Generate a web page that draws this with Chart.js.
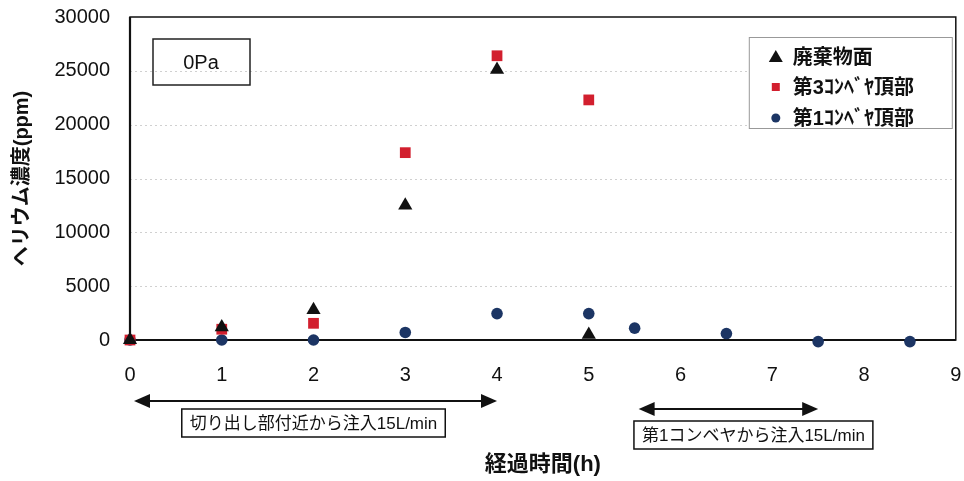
<!DOCTYPE html>
<html lang="ja">
<head>
<meta charset="utf-8">
<title>ヘリウム濃度の経時変化</title>
<script src="https://cdn.jsdelivr.net/npm/chart.js@4/dist/chart.umd.min.js"></script>
<style>
  html, body { margin: 0; padding: 0; background: #fff; }
  #wrap { width: 964px; height: 481px; position: relative; }
</style>
</head>
<body>
<div id="wrap"><canvas id="c" width="964" height="481"></canvas></div>
<script>
// 経過時間(h) と ヘリウム濃度(ppm)
const wasteX = [0, 1, 2, 3, 4, 5];
const wasteY = [0, 1200, 2800, 12500, 25100, 500];
const conv3X = [0, 1, 2, 3, 4, 5];
const conv3Y = [0, 1000, 1550, 17400, 26400, 22300];
const conv1X = [0, 1, 2, 3, 4, 5, 5.5, 6.5, 7.5, 8.5];
const conv1Y = [0, 0, 0, 700, 2450, 2450, 1100, 600, -150, -150];

const seriesNames = ['廃棄物面', '第3ｺﾝﾍﾞﾔ頂部', '第1ｺﾝﾍﾞﾔ頂部'];
const xTicks = [0, 1, 2, 3, 4, 5, 6, 7, 8, 9];
const yTicks = [0, 5000, 10000, 15000, 20000, 25000, 30000];

// 注入期間 (h)
const injectStart = [0, 5.5];
const injectEnd = [4, 7.5];
const injectLabels = ['切り出し部付近から注入15L/min', '第1コンベヤから注入15L/min'];
const conditionLabel = '0Pa';

const toPoints = (xs, ys) => xs.map((x, i) => ({ x: x, y: ys[i] }));

const LATIN = '"Liberation Sans", Arial, "Noto Sans CJK JP", sans-serif';
const JP = '"Liberation Sans", "Noto Sans CJK JP", sans-serif';

const decorations = {
  id: 'decorations',
  beforeDatasetsDraw(chart) {
    const { ctx, chartArea: a, scales: { y } } = chart;
    ctx.save();
    ctx.strokeStyle = '#d0d0d0';
    ctx.lineWidth = 1;
    ctx.setLineDash([2, 3]);
    yTicks.forEach(v => {
      if (v === 0 || v === 30000) return;
      const py = Math.round(y.getPixelForValue(v)) + 0.5;
      ctx.beginPath();
      ctx.moveTo(a.left, py);
      ctx.lineTo(a.right, py);
      ctx.stroke();
    });
    ctx.setLineDash([]);
    // plot frame
    ctx.strokeStyle = '#111';
    ctx.lineWidth = 1.5;
    ctx.strokeRect(a.left, a.top, a.right - a.left, a.bottom - a.top);
    ctx.lineWidth = 2.2;
    ctx.beginPath();
    ctx.moveTo(a.left, a.top);
    ctx.lineTo(a.left, a.bottom);
    ctx.lineTo(a.right, a.bottom);
    ctx.stroke();
    ctx.restore();
  },
  afterDraw(chart) {
    const { ctx, chartArea: a, scales: { x } } = chart;
    ctx.save();

    // condition label box
    ctx.strokeStyle = '#222';
    ctx.lineWidth = 1.5;
    ctx.strokeRect(a.left + 23, a.top + 22, 97, 46);
    ctx.fillStyle = '#111';
    ctx.font = '20px ' + LATIN;
    ctx.textAlign = 'center';
    ctx.textBaseline = 'middle';
    ctx.fillText(conditionLabel, a.left + 71, a.top + 46);

    // legend
    const lx = a.right - 207, ly = a.top + 20;
    ctx.fillStyle = '#fff';
    ctx.fillRect(lx, ly, 203, 91);
    ctx.strokeStyle = '#999';
    ctx.lineWidth = 1;
    ctx.strokeRect(lx + 0.5, ly + 0.5, 203, 91);
    const rows = [ly + 20, ly + 50, ly + 81];
    chart.data.datasets.forEach((ds, i) => {
      const cy = rows[i];
      const cx = lx + 27;
      ctx.fillStyle = ds.backgroundColor;
      ctx.beginPath();
      if (ds.pointStyle === 'triangle') {
        ctx.moveTo(cx, cy - 7);
        ctx.lineTo(cx + 7, cy + 5);
        ctx.lineTo(cx - 7, cy + 5);
        ctx.closePath();
      } else if (ds.pointStyle === 'rect') {
        ctx.rect(cx - 4, cy - 4, 8, 8);
      } else {
        ctx.arc(cx, cy, 4.5, 0, Math.PI * 2);
      }
      ctx.fill();
      ctx.fillStyle = '#111';
      ctx.font = 'bold 20px ' + JP;
      ctx.textAlign = 'left';
      ctx.textBaseline = 'middle';
      ctx.fillText(ds.label, lx + 44, cy + 1);
    });

    // injection periods: double arrows with boxed captions
    const arrowY = [a.bottom + 61, a.bottom + 69];
    const boxShift = [-2, 25];
    const boxY = [a.bottom + 69, a.bottom + 81];
    injectStart.forEach((s, i) => {
      const x0 = x.getPixelForValue(s) + 4;
      const x1 = x.getPixelForValue(injectEnd[i]);
      const yy = arrowY[i];
      ctx.strokeStyle = '#111';
      ctx.fillStyle = '#111';
      ctx.lineWidth = 2;
      ctx.beginPath();
      ctx.moveTo(x0 + 12, yy);
      ctx.lineTo(x1 - 12, yy);
      ctx.stroke();
      ctx.beginPath();
      ctx.moveTo(x0, yy);
      ctx.lineTo(x0 + 16, yy - 7);
      ctx.lineTo(x0 + 16, yy + 7);
      ctx.closePath();
      ctx.fill();
      ctx.beginPath();
      ctx.moveTo(x1, yy);
      ctx.lineTo(x1 - 16, yy - 7);
      ctx.lineTo(x1 - 16, yy + 7);
      ctx.closePath();
      ctx.fill();

      ctx.font = '17px ' + JP;
      const w = ctx.measureText(injectLabels[i]).width + 16;
      const cx = (x0 + x1) / 2 + boxShift[i];
      ctx.fillStyle = '#fff';
      ctx.fillRect(cx - w / 2, boxY[i], w, 28);
      ctx.lineWidth = 1.5;
      ctx.strokeRect(cx - w / 2, boxY[i], w, 28);
      ctx.fillStyle = '#111';
      ctx.textAlign = 'center';
      ctx.textBaseline = 'middle';
      ctx.fillText(injectLabels[i], cx, boxY[i] + 15);
    });
    ctx.restore();
  }
};

new Chart(document.getElementById('c'), {
  type: 'scatter',
  data: {
    datasets: [
      {
        label: seriesNames[0],
        data: toPoints(wasteX, wasteY),
        pointStyle: 'triangle',
        pointRadius: 8.2,
        backgroundColor: '#111111',
        borderColor: '#111111',
        borderWidth: 0
      },
      {
        label: seriesNames[1],
        data: toPoints(conv3X, conv3Y),
        pointStyle: 'rect',
        pointRadius: 7.6,
        backgroundColor: '#d21f2e',
        borderColor: '#d21f2e',
        borderWidth: 0
      },
      {
        label: seriesNames[2],
        data: toPoints(conv1X, conv1Y),
        pointStyle: 'circle',
        pointRadius: 5.8,
        backgroundColor: '#1c3564',
        borderColor: '#1c3564',
        borderWidth: 0
      }
    ]
  },
  options: {
    responsive: false,
    animation: false,
    clip: false,
    layout: { padding: { left: 0, top: 17, right: 7, bottom: 0 } },
    plugins: {
      legend: { display: false },
      tooltip: { enabled: false }
    },
    scales: {
      x: {
        type: 'linear',
        min: 0,
        max: 9,
        afterFit: s => { s.height = 141; s.paddingLeft = 0; s.paddingRight = 0; },
        afterBuildTicks: s => { s.ticks = xTicks.map(v => ({ value: v })); },
        grid: { display: false, drawTicks: false },
        border: { display: false },
        ticks: {
          padding: 23,
          color: '#111',
          font: { family: LATIN, size: 20 }
        },
        title: {
          display: true,
          text: '経過時間(h)',
          color: '#111',
          font: { family: JP, size: 22, weight: 'bold' },
          padding: { top: 0, bottom: 3 }
        }
      },
      y: {
        type: 'linear',
        min: 0,
        max: 30000,
        afterFit: s => { s.width = 130; s.paddingTop = 0; s.paddingBottom = 0; },
        afterBuildTicks: s => { s.ticks = yTicks.map(v => ({ value: v })); },
        grid: { display: false, drawTicks: false },
        border: { display: false },
        ticks: {
          padding: 20,
          color: '#111',
          font: { family: LATIN, size: 20 },
          callback: v => String(v)
        },
        title: {
          display: true,
          text: 'ヘリウム濃度(ppm)',
          color: '#111',
          font: { family: JP, size: 20, weight: 'bold' },
          padding: { top: 10, bottom: 0 }
        }
      }
    }
  },
  plugins: [decorations]
});
</script>
</body>
</html>
